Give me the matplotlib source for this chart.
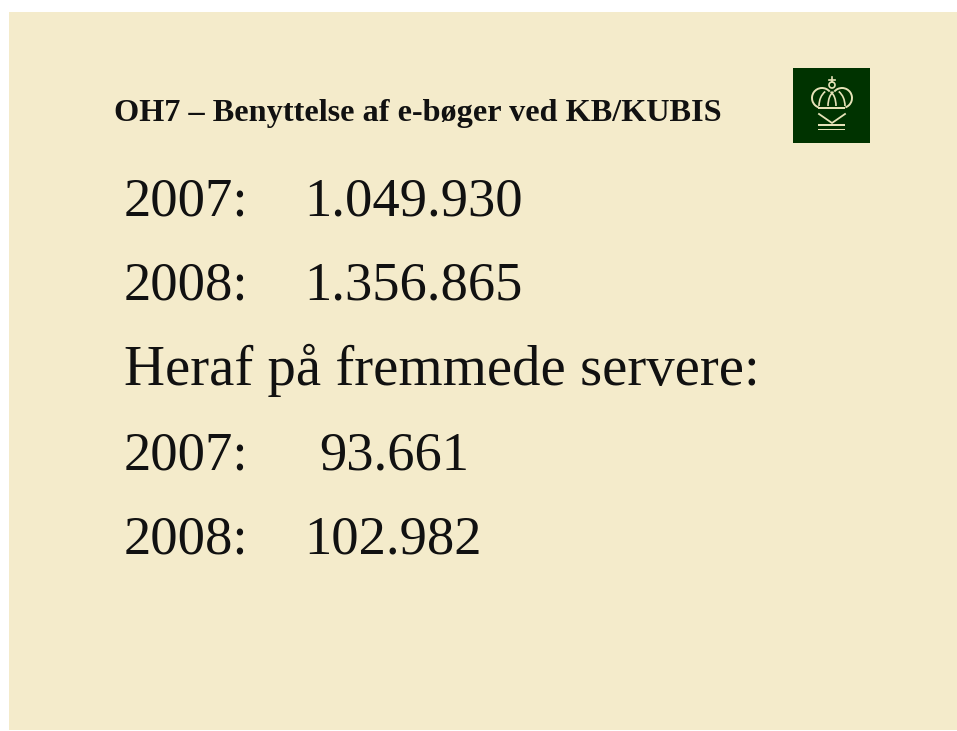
import matplotlib
matplotlib.use("Agg")
import matplotlib.pyplot as plt
from matplotlib.patches import Rectangle, Arc

TITLE = "OH7 – Benyttelse af e-bøger ved KB/KUBIS"
SUBHEAD = "Heraf på fremmede servere:"
YEARS = ["2007:", "2008:"]
TOTAL = ["1.049.930", "1.356.865"]
FOREIGN = ["93.661", "102.982"]

BG = "#f4ebcb"
GREEN = "#003300"
LINE = "#e6e2b8"
BIG = 39.3

plt.rcParams["font.family"] = ["Liberation Serif", "DejaVu Serif"]

fig = plt.figure(figsize=(9.57, 7.31), dpi=100, facecolor="white")
ax = fig.add_axes([0, 0, 1, 1])
ax.set_xlim(0, 957)
ax.set_ylim(731, 0)
ax.axis("off")

# slide background
ax.add_patch(Rectangle((9, 12), 948, 718, fc=BG, ec="none"))

ax.text(114, 120.5, TITLE, fontsize=23.2, fontweight="bold", color="#111111")


def big_row(y, year, value, x_val=304):
    ax.text(124, y, year, fontsize=BIG, color="#111111")
    ax.text(x_val, y, value, fontsize=BIG, color="#111111")


big_row(215, YEARS[0], TOTAL[0])
big_row(299, YEARS[1], TOTAL[1])
ax.text(124, 385, SUBHEAD, fontsize=40.9, color="#111111")
big_row(469, YEARS[0], FOREIGN[0], x_val=319)
big_row(553, YEARS[1], FOREIGN[1])

# logo: crown over chevron
ax.add_patch(Rectangle((793, 68), 77, 75, fc=GREEN, ec="none"))
ax.add_patch(Arc((822, 98), 20, 20, theta1=110, theta2=320, ec=LINE, lw=1.4))
ax.add_patch(Arc((842, 98), 20, 20, theta1=220, theta2=70, ec=LINE, lw=1.4))
ax.add_patch(Arc((832, 106), 26, 34, theta1=180, theta2=245, ec=LINE, lw=1.2))
ax.add_patch(Arc((832, 106), 26, 34, theta1=295, theta2=360, ec=LINE, lw=1.2))
ax.add_patch(Arc((836, 106), 16, 30, theta1=180, theta2=260, ec=LINE, lw=1.2))
ax.add_patch(Arc((828, 106), 16, 30, theta1=280, theta2=360, ec=LINE, lw=1.2))
ax.add_patch(Rectangle((818, 107), 27, 2, fc=LINE, ec="none"))
ax.plot([819, 832, 845], [114, 123, 114], color=LINE, lw=1.3)
ax.add_patch(Rectangle((818, 124), 27, 1.6, fc=LINE, ec="none"))
ax.add_patch(Rectangle((818, 128.5), 27, 1.6, fc=LINE, ec="none"))
ax.add_patch(Arc((832, 85), 6, 6, ec=LINE, lw=1.2))
ax.plot([832, 832], [77, 82], color=LINE, lw=1.2)
ax.plot([829, 835], [79.5, 79.5], color=LINE, lw=1.2)

fig.savefig("out.png", dpi=100)
